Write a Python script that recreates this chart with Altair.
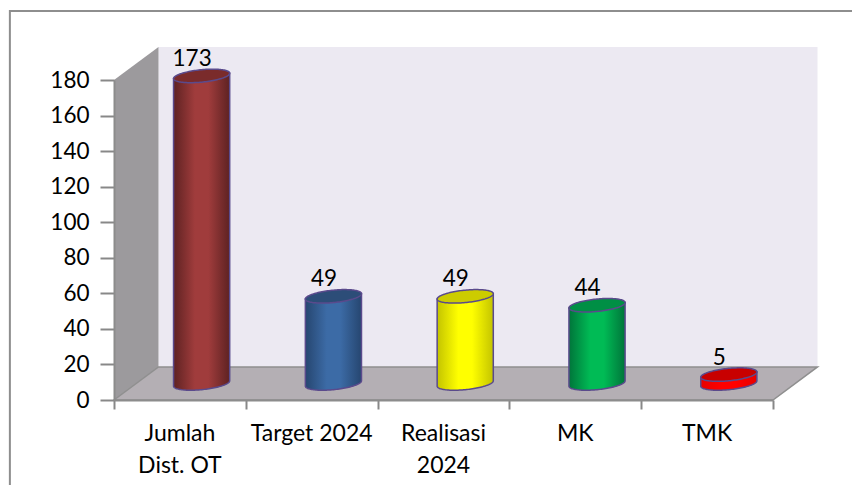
import numpy as np
import pandas as pd
import altair as alt

categories = ["Jumlah\nDist. OT", "Target 2024", "Realisasi\n2024", "MK", "TMK"]
values = [173, 49, 49, 44, 5]
body_edge = ["#5e2222", "#264670", "#c4c400", "#00753a", "#e80000"]
body_mid = ["#a03c3c", "#3c6ba6", "#ffff00", "#00bb55", "#ff0000"]
cap_color = ["#7a2b2b", "#2c4d78", "#cccc00", "#008f45", "#c80000"]
y_ticks = [0, 20, 40, 60, 80, 100, 120, 140, 160, 180]
x_ticks = [0, 1, 2, 3, 4, 5]

Y_MAX = 180
N = len(categories)
W, H = 659, 320
PAD = {"left": 106, "top": 72, "right": 79, "bottom": 85}
DEPTH_X = 44.5 / (W / N)     # depth of the box, in category units
DEPTH_Y = 18.6               # depth of the box, in value units
HALF_W = 0.213               # cylinder half width, category units
HALF_H = 3.5                 # ellipse half height, value units
TILT = 1.5                   # ellipse tilt, value units
FRAME_X = -0.79
FRAME_Y_TOP = 218.8
FRAME_X_RIGHT = 5.6
FRAME_Y_BOTTOM = -48
TEXT = "#000000"

x_scale = alt.Scale(domain=[0, N], nice=False, zero=False)
y_scale = alt.Scale(domain=[0, Y_MAX], nice=False, zero=False)
x_axis = alt.Axis(
    values=x_ticks, labels=False, grid=False, tickColor="#888888", tickWidth=2, tickSize=9,
    domainColor="#8c8c8c", domainWidth=2, zindex=1, title=None,
)
y_axis = alt.Axis(
    values=y_ticks, grid=False, tickColor="#888888", tickWidth=2, tickSize=14, labelPadding=11,
    labelFont="Lato", labelFontSize=22.5, labelColor=TEXT,
    domainColor="#8c8c8c", domainWidth=2, zindex=1, title=None,
)
x_enc = alt.X("x:Q", scale=x_scale, axis=x_axis)
y_enc = alt.Y("y:Q", scale=y_scale, axis=y_axis)


def area(rows, **mark):
    df = pd.DataFrame(rows, columns=["x", "y", "y2"])
    return alt.Chart(df).mark_area(orient="vertical", interpolate="linear", clip=False, **mark).encode(
        x=x_enc, y=y_enc, y2="y2:Q"
    )


back_wall = area([(DEPTH_X, Y_MAX + DEPTH_Y, DEPTH_Y), (N + DEPTH_X, Y_MAX + DEPTH_Y, DEPTH_Y)], fill="#ece9f2")
side_wall = area([(0, Y_MAX, 0), (DEPTH_X, Y_MAX + DEPTH_Y, DEPTH_Y)], fill="#9c9a9d")
floor = area(
    [(0, 0, 0), (DEPTH_X, DEPTH_Y, 0), (N, DEPTH_Y, 0), (N + DEPTH_X, DEPTH_Y, DEPTH_Y)],
    fill="#b4afb4", stroke="#8f8f8f", strokeWidth=1.5,
)

frame_df = pd.DataFrame({
    "x": [FRAME_X, FRAME_X, FRAME_X_RIGHT],
    "y": [FRAME_Y_BOTTOM, FRAME_Y_TOP, FRAME_Y_TOP],
    "o": [0, 1, 2],
})
frame = alt.Chart(frame_df).mark_line(color="#8e8e8e", strokeWidth=2, clip=False).encode(
    x=x_enc, y=y_enc, order="o:Q"
)

layers = [frame, back_wall, side_wall, floor]

ts = np.cos(np.linspace(np.pi, 0, 61))
for i, v in enumerate(values):
    cx = i + 0.5 + DEPTH_X / 2 - 0.004
    base = DEPTH_Y / 2
    top = base + v
    r = np.sqrt(np.clip(1 - ts ** 2, 0, 1))
    body_rows = [(cx + HALF_W * t, top + TILT * t, base + TILT * t - HALF_H * q) for t, q in zip(ts, r)]
    cap_rows = [(cx + HALF_W * t, top + TILT * t + HALF_H * q, top + TILT * t - HALF_H * q) for t, q in zip(ts, r)]
    grad = alt.Gradient(
        gradient="linear", x1=0, x2=1, y1=0, y2=0,
        stops=[
            alt.GradientStop(color=body_edge[i], offset=0),
            alt.GradientStop(color=body_mid[i], offset=0.38),
            alt.GradientStop(color=body_mid[i], offset=0.62),
            alt.GradientStop(color=body_edge[i], offset=1),
        ],
    )
    layers.append(area(body_rows, fill=grad, stroke="#5a4a8c", strokeWidth=1.5))
    layers.append(area(cap_rows, fill=cap_color[i], stroke="#5a4a8c", strokeWidth=1.5))

label_df = pd.DataFrame({
    "x": [i + 0.5 + DEPTH_X / 2 - 0.076 for i in range(N)],
    "y": [DEPTH_Y / 2 + v + 9.6 for v in values],
    "t": [str(v) for v in values],
})
value_labels = alt.Chart(label_df).mark_text(
    font="Lato", fontSize=22.5, color=TEXT, align="center", baseline="middle", clip=False
).encode(x=x_enc, y=y_enc, text="t:N")

cat_df = pd.DataFrame({
    "x": [i + 0.5 for i in range(N)],
    "y": [-13.2] * N,
    "t": categories,
})
cat_labels = alt.Chart(cat_df).mark_text(
    font="Lato", fontSize=23, color=TEXT, align="center", baseline="top",
    lineBreak="\n", lineHeight=32, clip=False
).encode(x=x_enc, y=y_enc, text="t:N")

layers += [value_labels, cat_labels]

chart = alt.layer(*layers).properties(
    width=W, height=H, padding=PAD,
    autosize=alt.AutoSizeParams(type="none"),
    background="#ffffff",
).configure_view(stroke=None)

chart.save("out.html", embed_options={"renderer": "svg", "actions": False})
